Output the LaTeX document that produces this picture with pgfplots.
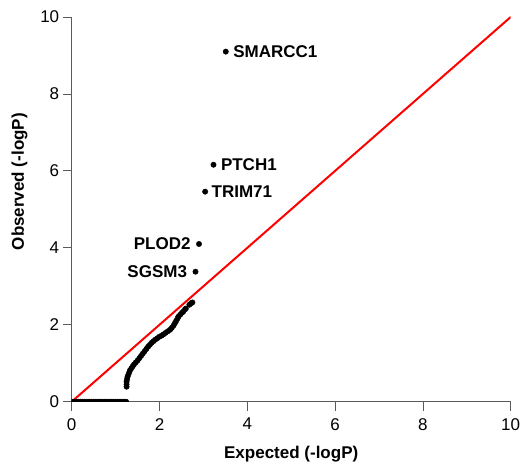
\documentclass[border=0pt]{standalone}
\usepackage{fontspec}
\setmainfont{Liberation Sans}
\usepackage{pgfplots}
\pgfplotsset{compat=1.18}
\definecolor{axgray}{RGB}{90,90,90}
\tikzset{
  dots/.style={black, fill=black, mark=*, only marks, mark size=2.7bp, mark options={black, fill=black}},
  glabel/.style={font=\fontsize{17bp}{20bp}\selectfont\bfseries, text=black},
}
\begin{document}
\begin{tikzpicture}
\begin{axis}[
  name=ax,
  scale only axis,
  width=439bp, height=384.7bp,
  xmin=0, xmax=10, ymin=0, ymax=10,
  axis lines*=left,
  axis line style={axgray, line width=0.8bp, -},
  xtick={0,2,...,10}, ytick={0,2,...,10},
  tick style={axgray, line width=0.8bp},
  tick align=outside,
  major tick length=9bp,
  /pgf/number format/assume math mode=true,
  ticklabel style={font=\fontsize{17bp}{20bp}\selectfont},
  xticklabel style={yshift=-4bp},
  xlabel={\bfseries Expected (-logP)},
  ylabel={\bfseries Observed (-logP)},
  label style={font=\fontsize{17bp}{20bp}\selectfont},
  xlabel style={at={(rel axis cs:0.5,0)}, anchor=north, yshift=-41bp},
  ylabel style={at={(rel axis cs:-0.119,0.572)}, anchor=center},
  clip marker paths=true,
]
\addplot[red, line width=2bp, mark=none] coordinates {(0,0) (10,10)};
% points at zero
\addplot[dots] coordinates {
(0.00,0) (0.05,0) (0.10,0) (0.15,0) (0.20,0) (0.25,0) (0.30,0) (0.35,0) (0.40,0) (0.45,0)
(0.50,0) (0.55,0) (0.60,0) (0.65,0) (0.70,0) (0.75,0) (0.80,0) (0.85,0) (0.90,0) (0.95,0)
(1.00,0) (1.05,0) (1.10,0) (1.15,0) (1.20,0) (1.24,0)
};
% main curve
\addplot[dots] coordinates {
(1.25,0.39) (1.25,0.45) (1.25,0.52) (1.26,0.58) (1.27,0.64) (1.29,0.70) (1.31,0.76) (1.33,0.82)
(1.36,0.87) (1.39,0.92) (1.42,0.97) (1.46,1.02) (1.50,1.07) (1.54,1.13) (1.58,1.19) (1.62,1.25)
(1.66,1.31) (1.70,1.37) (1.74,1.43) (1.78,1.48) (1.82,1.53) (1.86,1.57) (1.90,1.61) (1.95,1.65)
(2.00,1.69) (2.05,1.72) (2.09,1.75) (2.14,1.79) (2.19,1.83) (2.24,1.87) (2.28,1.92) (2.32,1.98)
(2.35,2.04) (2.38,2.10) (2.41,2.16) (2.43,2.21) (2.47,2.26) (2.51,2.31) (2.54,2.34) (2.58,2.40)
(2.60,2.42) (2.68,2.52) (2.72,2.56) (2.75,2.58)
};
\addplot[dots] coordinates {(3.51,9.10)} node[glabel, right, xshift=4bp] {SMARCC1};
\addplot[dots] coordinates {(3.23,6.16)} node[glabel, right, xshift=4bp] {PTCH1};
\addplot[dots] coordinates {(3.04,5.46)} node[glabel, right, xshift=3bp] {TRIM71};
\addplot[dots] coordinates {(2.90,4.10)} node[glabel, left, xshift=-5bp] {PLOD2};
\addplot[dots] coordinates {(2.82,3.38)} node[glabel, left, xshift=-5bp] {SGSM3};
\end{axis}
\pgfresetboundingbox
\path[use as bounding box] ([xshift=-71.7bp,yshift=-64.3bp]ax.south west) rectangle ([xshift=11.3bp,yshift=17bp]ax.north east);
\end{tikzpicture}
\end{document}
